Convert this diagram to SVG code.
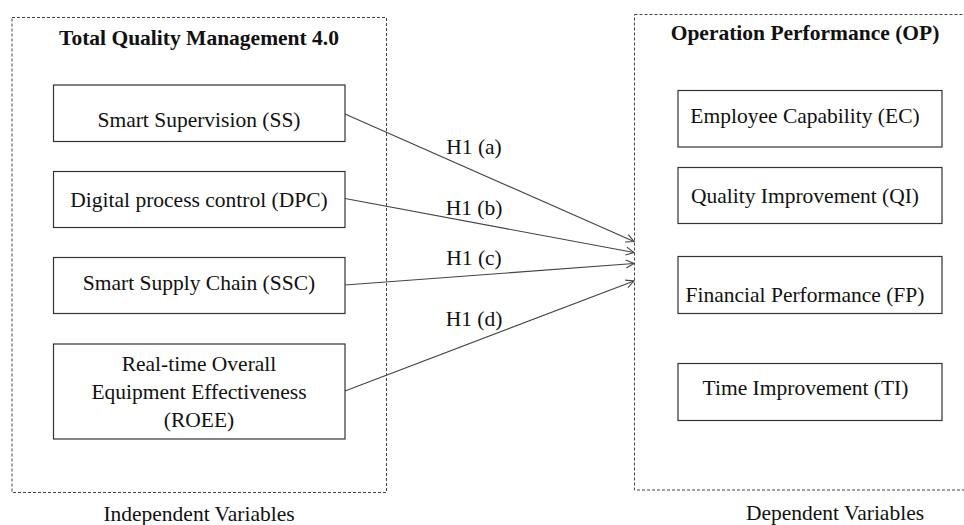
<svg xmlns="http://www.w3.org/2000/svg" width="964" height="525" viewBox="0 0 964 525">
<style>
text{font-family:"Liberation Serif","Times New Roman",serif;font-size:21.5px;fill:#111;text-anchor:middle}
.title{font-weight:bold}
.frame{fill:none;stroke:#444;stroke-width:1;stroke-dasharray:3 2}
.box{fill:#fff;stroke:#333;stroke-width:1.2}
.conn{fill:none;stroke:#444;stroke-width:1.1;marker-end:url(#arr)}
</style>
<defs>
<marker id="arr" viewBox="0 0 10 10" refX="9" refY="5" markerWidth="10" markerHeight="10" markerUnits="userSpaceOnUse" orient="auto">
<path d="M1,1 L9,5 L1,9" fill="none" stroke="#444" stroke-width="1.1"/>
</marker>
</defs>
<g id="independent">
<rect class="frame" x="12" y="17.5" width="374.5" height="475"/>
<text class="title" x="199" y="45">Total Quality Management 4.0</text>
<text x="199" y="521">Independent Variables</text>
</g>
<g id="dependent">
<rect class="frame" x="634.5" y="14.5" width="340" height="475.5"/>
<text class="title" x="805" y="40">Operation Performance (OP)</text>
<text x="835" y="520">Dependent Variables</text>
</g>
<g id="ss"><rect class="box" x="53.5" y="85" width="291.5" height="56.5"/><text x="199" y="127">Smart Supervision (SS)</text></g>
<g id="dpc"><rect class="box" x="53.5" y="171.5" width="291.5" height="56"/><text x="199" y="207">Digital process control (DPC)</text></g>
<g id="ssc"><rect class="box" x="53.5" y="257.5" width="291.5" height="56"/><text x="199" y="290">Smart Supply Chain (SSC)</text></g>
<g id="roee"><rect class="box" x="53.5" y="344" width="291.5" height="95"/>
<text x="199" y="371">Real-time Overall</text>
<text x="199" y="399">Equipment Effectiveness</text>
<text x="199" y="427">(ROEE)</text></g>
<g id="ec"><rect class="box" x="678" y="90.5" width="264" height="56.5"/><text x="805" y="123">Employee Capability (EC)</text></g>
<g id="qi"><rect class="box" x="678" y="167.5" width="264" height="56"/><text x="805" y="203">Quality Improvement (QI)</text></g>
<g id="fp"><rect class="box" x="678" y="256.5" width="264" height="57"/><text x="805" y="301.5">Financial Performance (FP)</text></g>
<g id="ti"><rect class="box" x="678" y="363.5" width="264" height="57"/><text x="805.5" y="395">Time Improvement (TI)</text></g>
<g id="connectors">
<line class="conn" x1="345" y1="114" x2="634" y2="241.5"/>
<line class="conn" x1="345" y1="198.5" x2="634" y2="252.5"/>
<line class="conn" x1="345" y1="285" x2="634" y2="263.5"/>
<line class="conn" x1="345" y1="391" x2="634" y2="281"/>
<text x="474" y="154">H1 (a)</text>
<text x="474" y="215">H1 (b)</text>
<text x="474" y="265">H1 (c)</text>
<text x="474" y="326">H1 (d)</text>
</g>
</svg>
